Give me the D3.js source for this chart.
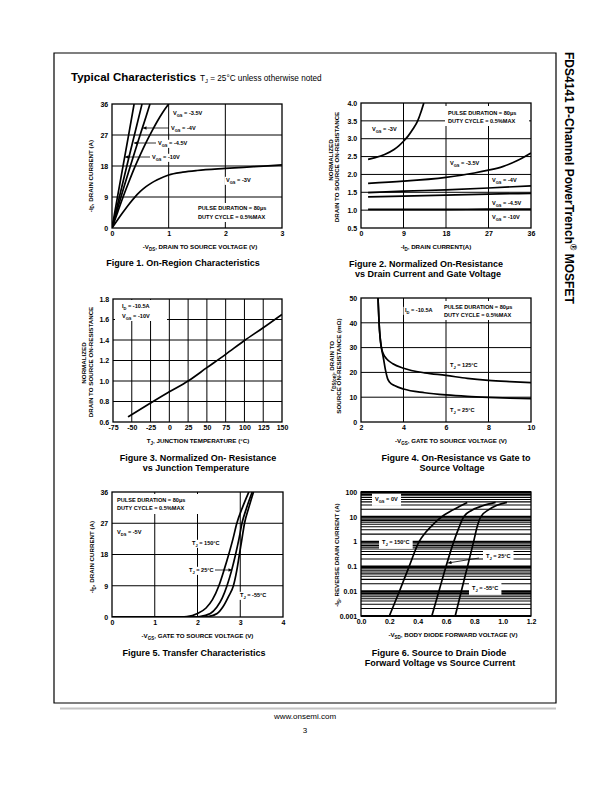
<!DOCTYPE html>
<html><head><meta charset="utf-8">
<script src="https://cdn.jsdelivr.net/npm/d3@7"></script>
<style>
html,body{margin:0;padding:0;background:#fff;}
svg{display:block;}
text{font-family:"Liberation Sans",Arial,Helvetica,sans-serif;fill:#000;}
</style></head><body>
<svg id="page" width="612" height="792"></svg>
<script>
// ---------- Figure 1: On-Region Characteristics ----------
const fig1XTicks = [0, 1, 2, 3];
const fig1YTicks = [0, 9, 18, 27, 36];
const fig1Vgs10 = [[0,0],[0.1,9.3],[0.2,18.5],[0.3,27.6],[0.39,36]];
const fig1Vgs45 = [[0,0],[0.1,6.9],[0.2,13.8],[0.3,20.6],[0.4,27.3],[0.53,36]];
const fig1Vgs4  = [[0,0],[0.1,5.7],[0.2,11.3],[0.3,16.7],[0.4,22],[0.5,27.2],[0.6,32.3],[0.67,36]];
const fig1Vgs35 = [[0,0],[0.1,4.6],[0.2,9.2],[0.3,13.5],[0.4,17.6],[0.5,21.3],[0.6,24.8],[0.7,28],[0.8,31],[0.9,33.7],[1.0,36]];
const fig1Vgs3  = [[0,0],[0.1,2.4],[0.2,4.7],[0.3,6.9],[0.4,8.9],[0.5,10.6],[0.6,12],[0.7,13.1],[0.8,14],[1.0,15.4],[1.25,16.2],[1.5,16.7],[2.0,17.3],[2.5,17.8],[3.0,18.3]];

// ---------- Figure 2: Normalized On-Resistance vs Drain Current ----------
const fig2XTicks = [0, 9, 18, 27, 36];
const fig2YTicks = [0.5, 1.0, 1.5, 2.0, 2.5, 3.0, 3.5, 4.0];
const fig2Vgs3  = [[1.5,2.42],[3,2.47],[5,2.56],[7,2.7],[8,2.8],[9,2.93],[10,3.08],[11,3.27],[12,3.5],[12.7,3.75],[13.3,4.0]];
const fig2Vgs35 = [[1.5,1.75],[9,1.81],[18,1.92],[24,2.04],[27,2.12],[30,2.22],[33,2.38],[36,2.6]];
const fig2Vgs4  = [[1.5,1.49],[9,1.53],[18,1.57],[27,1.62],[36,1.68]];
const fig2Vgs45 = [[1.5,1.37],[9,1.39],[18,1.42],[27,1.45],[36,1.47]];
const fig2Vgs10 = [[1.5,1.02],[9,1.02],[18,1.02],[27,1.03],[36,1.03]];

// ---------- Figure 3: Normalized On-Resistance vs Junction Temperature ----------
const fig3XTicks = [-75, -50, -25, 0, 25, 50, 75, 100, 125, 150];
const fig3YTicks = [0.6, 0.8, 1.0, 1.2, 1.4, 1.6, 1.8];
const fig3Rnorm = [[-55,0.65],[-25,0.785],[0,0.895],[25,1.0],[50,1.13],[75,1.26],[100,1.395],[125,1.52],[150,1.65]];

// ---------- Figure 4: On-Resistance vs Gate to Source Voltage ----------
const fig4XTicks = [2, 4, 6, 8, 10];
const fig4YTicks = [0, 10, 20, 30, 40, 50];
const fig4Tj125 = [[2.8,50],[2.85,40],[2.9,34],[2.96,30],[3.05,27.5],[3.2,25.5],[3.5,23.5],[4,21.7],[5,19.8],[6,18.8],[7,17.6],[8,16.8],[9,16.3],[10,15.9]];
const fig4Tj25  = [[2.8,50],[2.85,40],[2.9,34],[2.96,30],[3.05,26],[3.15,21],[3.25,17.5],[3.35,16],[3.6,14.6],[4,13.3],[5,11.8],[6,10.9],[7,10.3],[8,9.9],[9,9.6],[10,9.4]];

// ---------- Figure 5: Transfer Characteristics ----------
const fig5XTicks = [0, 1, 2, 3, 4];
const fig5YTicks = [0, 9, 18, 27, 36];
const fig5Tj150  = [[0,0],[1.5,0],[1.75,0.15],[2.0,1.0],[2.2,2.6],[2.35,5],[2.5,9],[2.62,13.5],[2.73,18],[2.83,22.5],[2.92,27],[3.05,31.5],[3.2,36]];
const fig5Tj25   = [[0,0],[1.8,0],[2.05,0.15],[2.3,1.0],[2.45,2.8],[2.58,5.5],[2.69,9],[2.8,13.5],[2.89,18],[2.97,22.5],[3.04,27],[3.15,31.5],[3.28,36]];
const fig5TjM55  = [[0,0],[2.05,0],[2.25,0.15],[2.46,1.0],[2.6,3],[2.73,6],[2.84,9],[2.92,13.5],[2.98,18],[3.04,22.5],[3.1,27],[3.2,31.5],[3.31,36]];

// ---------- Figure 6: Source to Drain Diode Forward Voltage ----------
const fig6XTicks = [0.0, 0.2, 0.4, 0.6, 0.8, 1.0, 1.2];
const fig6YTicks = [0.001, 0.01, 0.1, 1, 10, 100];
const fig6Tj150  = [[0.2,0.001],[0.27,0.0095],[0.34,0.1],[0.41,1],[0.46,2.5],[0.51,5],[0.57,10],[0.65,19],[0.75,38]];
const fig6Tj25   = [[0.5,0.001],[0.55,0.01],[0.6,0.1],[0.655,1],[0.69,3.5],[0.725,10],[0.78,18],[0.86,28],[0.95,38]];
const fig6TjM55  = [[0.665,0.001],[0.708,0.01],[0.752,0.1],[0.795,1],[0.82,4],[0.845,10],[0.9,19],[0.96,29],[1.03,38]];

// ================= drawing =================
const svg = d3.select('#page');
const defs = svg.append('defs');
defs.append('marker').attr('id','ah').attr('viewBox','0 0 10 10').attr('refX',10).attr('refY',5)
  .attr('markerUnits','userSpaceOnUse').attr('markerWidth',4.5).attr('markerHeight',3.5).attr('orient','auto')
  .append('path').attr('d','M0,0 L10,5 L0,10 z').attr('fill','#000');

function rich(sel, str, fs) {
  const parts = [];
  const re = /([_^])\{([^}]*)\}/g;
  let last = 0, m;
  while ((m = re.exec(str)) !== null) {
    if (m.index > last) parts.push({t: str.slice(last, m.index), k: 0});
    parts.push({t: m[2], k: m[1] === '_' ? 1 : -1});
    last = re.lastIndex;
  }
  if (last < str.length) parts.push({t: str.slice(last), k: 0});
  let cur = 0;
  parts.forEach(p => {
    const off = p.k === 1 ? fs * 0.3 : (p.k === -1 ? -fs * 0.42 : 0);
    const ts = sel.append('tspan').attr('dy', off - cur).text(p.t);
    if (p.k !== 0) ts.attr('font-size', fs * 0.72);
    cur = off;
  });
  return sel;
}

const TICK_FS = 7, TITLE_FS = 6.2, ANN_FS = 5.6, CAP_FS = 9;

function drawFigure(c) {
  const g = svg.append('g');
  const x = d3.scaleLinear().domain(c.xDomain).range([c.left, c.right]);
  const y = (c.yLog ? d3.scaleLog() : d3.scaleLinear()).domain(c.yDomain).range([c.bottom, c.top]);
  const clipId = 'clip-' + c.id;
  defs.append('clipPath').attr('id', clipId).append('rect')
    .attr('x', c.left).attr('y', c.top).attr('width', c.right - c.left).attr('height', c.bottom - c.top);

  // grid
  const grid = g.append('g').attr('stroke', '#000');
  grid.selectAll('line.v').data(c.xGrid).join('line').attr('class', 'v')
    .attr('x1', d => x(d)).attr('x2', d => x(d)).attr('y1', c.top).attr('y2', c.bottom).attr('stroke-width', 1);
  grid.selectAll('line.h').data(c.yGrid).join('line').attr('class', 'h')
    .attr('x1', c.left).attr('x2', c.right).attr('y1', d => y(d)).attr('y2', d => y(d))
    .attr('stroke-width', d => c.yGridWidth ? c.yGridWidth(d) : 1);

  const bgG = g.append('g');
  (c.boxes || []).forEach(b => bgG.append('rect').attr('x', b[0]).attr('y', b[1])
    .attr('width', b[2] - b[0]).attr('height', b[3] - b[1]).attr('fill', '#fff'));

  // curves
  const line = d3.line().x(d => x(d[0])).y(d => y(d[1])).curve(d3.curveMonotoneX);
  g.append('g').attr('clip-path', `url(#${clipId})`)
    .selectAll('path').data(c.series).join('path')
    .attr('d', line).attr('fill', 'none').attr('stroke', '#000').attr('stroke-width', 1.7)
    .attr('stroke-linejoin', 'round');

  // frame
  g.append('rect').attr('x', c.left).attr('y', c.top).attr('width', c.right - c.left)
    .attr('height', c.bottom - c.top).attr('fill', 'none').attr('stroke', '#000').attr('stroke-width', 1.3);

  // axes
  const xa = g.append('g').attr('transform', `translate(0,${c.bottom})`)
    .call(d3.axisBottom(x).tickValues(c.xTicks).tickSize(0).tickPadding(3.3).tickFormat(c.xFmt || (d => d)));
  const ya = g.append('g').attr('transform', `translate(${c.left},0)`)
    .call(d3.axisLeft(y).tickValues(c.yTicks).tickSize(0).tickPadding(3.8).tickFormat(c.yFmt || (d => d)));
  [xa, ya].forEach(a => {
    a.select('.domain').remove();
    a.attr('font-family', null).attr('font-size', null);
    a.selectAll('text').attr('font-size', TICK_FS).attr('font-weight', 'bold').attr('fill', '#000');
  });

  // axis titles
  rich(g.append('text').attr('x', c.xTitle.x).attr('y', c.bottom + 21).attr('text-anchor', 'middle')
    .attr('font-size', TITLE_FS).attr('font-weight', 'bold'), c.xTitle.t, TITLE_FS);
  c.yTitles.forEach(t => {
    rich(g.append('text').attr('transform', `translate(${t.x},${t.y}) rotate(-90)`).attr('text-anchor', 'middle')
      .attr('font-size', TITLE_FS).attr('font-weight', 'bold'), t.t, TITLE_FS);
  });

  // annotations
  const labG = g.append('g');
  const pad = c.labelPad || [1.5, 0.2];
  (c.labels || []).forEach(l => {
    const t = rich(labG.append('text').attr('x', l.x).attr('y', l.y).attr('font-size', ANN_FS)
      .attr('font-weight', 'bold'), l.t, ANN_FS);
    if (l.bg !== false) {
      const bb = t.node().getBBox();
      bgG.append('rect').attr('x', bb.x - pad[0]).attr('y', bb.y - pad[1])
        .attr('width', bb.width + 2 * pad[0]).attr('height', bb.height + 2 * pad[1]).attr('fill', '#fff');
    }
    if (l.arrow) {
      labG.append('line').attr('x1', l.arrow[0]).attr('y1', l.arrow[1]).attr('x2', l.arrow[2]).attr('y2', l.arrow[3])
        .attr('stroke', '#000').attr('stroke-width', 0.8).attr('marker-end', 'url(#ah)');
    }
  });

  // caption
  c.caption.forEach(cl => {
    g.append('text').attr('x', cl.x).attr('y', cl.y).attr('text-anchor', 'middle')
      .attr('font-size', CAP_FS).attr('font-weight', 'bold').text(cl.t);
  });
}

const inner = a => a.slice(1, -1);
const PULSE = 'PULSE DURATION = 80μs', DUTY = 'DUTY CYCLE = 0.5%MAX';

drawFigure({
  id: 1, left: 112, right: 282, top: 104, bottom: 228,
  xDomain: [0, 3], yDomain: [0, 36], xTicks: fig1XTicks, yTicks: fig1YTicks,
  xGrid: inner(fig1XTicks), yGrid: inner(fig1YTicks),
  series: [fig1Vgs10, fig1Vgs45, fig1Vgs4, fig1Vgs35, fig1Vgs3],
  boxes: [[195, 203, 273, 222]],
  labels: [
    {x: 173, y: 115, t: 'V_{GS} = -3.5V'},
    {x: 171, y: 130, t: 'V_{GS} = -4V', arrow: [169, 128, 143, 128]},
    {x: 158, y: 145, t: 'V_{GS} = -4.5V', arrow: [156, 143, 134, 143]},
    {x: 152, y: 159, t: 'V_{GS} = -10V', arrow: [150, 157, 125, 157]},
    {x: 226, y: 182, t: 'V_{GS} = -3V'},
    {x: 198, y: 210, t: PULSE, bg: false},
    {x: 198, y: 219, t: DUTY, bg: false}
  ],
  xTitle: {x: 200, t: '-V_{DS}, DRAIN TO SOURCE VOLTAGE (V)'},
  yTitles: [{x: 92.5, y: 176, t: '-I_{D}, DRAIN CURRENT (A)'}],
  caption: [{x: 183, y: 266, t: 'Figure 1.  On-Region Characteristics'}]
});

drawFigure({
  id: 2, left: 361, right: 531, top: 103, bottom: 228,
  xDomain: [0, 36], yDomain: [0.5, 4.0], xTicks: fig2XTicks, yTicks: fig2YTicks,
  yFmt: d3.format('.1f'),
  xGrid: inner(fig2XTicks), yGrid: inner(fig2YTicks),
  series: [fig2Vgs3, fig2Vgs35, fig2Vgs4, fig2Vgs45, fig2Vgs10],
  boxes: [[445, 106, 529, 126]],
  labels: [
    {x: 372, y: 131, t: 'V_{GS} = -3V'},
    {x: 450, y: 165, t: 'V_{GS} = -3.5V'},
    {x: 492, y: 182, t: 'V_{GS} = -4V'},
    {x: 492, y: 205, t: 'V_{GS} = -4.5V'},
    {x: 492, y: 219, t: 'V_{GS} = -10V'},
    {x: 448, y: 115, t: PULSE, bg: false},
    {x: 448, y: 123, t: DUTY, bg: false}
  ],
  xTitle: {x: 436, t: '-I_{D}, DRAIN CURRENT(A)'},
  yTitles: [{x: 332.5, y: 160, t: 'NORMALIZED'}, {x: 338.8, y: 167, t: 'DRAIN TO SOURCE ON-RESISTANCE'}],
  caption: [{x: 426, y: 267, t: 'Figure 2. Normalized On-Resistance'},
            {x: 428, y: 277, t: 'vs Drain Current and Gate Voltage'}]
});

drawFigure({
  id: 3, left: 113, right: 282, top: 299, bottom: 422,
  xDomain: [-75, 150], yDomain: [0.6, 1.8], xTicks: fig3XTicks, yTicks: fig3YTicks,
  yFmt: d3.format('.1f'),
  xGrid: inner(fig3XTicks), yGrid: inner(fig3YTicks),
  series: [fig3Rnorm],
  boxes: [[115, 300, 167, 321]],
  labels: [
    {x: 122, y: 308, t: 'I_{D} = -10.5A', bg: false},
    {x: 122, y: 318, t: 'V_{GS} = -10V', bg: false}
  ],
  xTitle: {x: 198, t: 'T_{J}, JUNCTION TEMPERATURE  (°C)'},
  yTitles: [{x: 85.5, y: 363, t: 'NORMALIZED'}, {x: 92.5, y: 362, t: 'DRAIN TO SOURCE ON-RESISTANCE'}],
  caption: [{x: 198, y: 461, t: 'Figure 3. Normalized On- Resistance'},
            {x: 196, y: 471, t: 'vs Junction Temperature'}]
});

drawFigure({
  id: 4, left: 361, right: 531, top: 298, bottom: 422,
  xDomain: [2, 10], yDomain: [0, 50], xTicks: fig4XTicks, yTicks: fig4YTicks,
  xGrid: inner(fig4XTicks), yGrid: inner(fig4YTicks),
  series: [fig4Tj125, fig4Tj25],
  boxes: [[442, 301, 528, 320]],
  labels: [
    {x: 405, y: 312, t: 'I_{D} = -10.5A'},
    {x: 444, y: 309, t: PULSE, bg: false},
    {x: 444, y: 317, t: DUTY, bg: false},
    {x: 450, y: 367, t: 'T_{J} = 125°C'},
    {x: 450, y: 412, t: 'T_{J} = 25°C'}
  ],
  xTitle: {x: 451, t: '-V_{GS}, GATE TO SOURCE VOLTAGE  (V)'},
  yTitles: [{x: 334, y: 366, t: 'r_{DS(on)}, DRAIN TO'}, {x: 340.5, y: 366, t: 'SOURCE ON-RESISTANCE  (mΩ)'}],
  caption: [{x: 456, y: 461, t: 'Figure 4.  On-Resistance vs Gate to'},
            {x: 452, y: 471, t: 'Source Voltage'}]
});

drawFigure({
  id: 5, left: 112, right: 283, top: 492, bottom: 617,
  xDomain: [0, 4], yDomain: [0, 36], xTicks: fig5XTicks, yTicks: fig5YTicks,
  xGrid: inner(fig5XTicks), yGrid: inner(fig5YTicks),
  series: [fig5Tj150, fig5Tj25, fig5TjM55],
  boxes: [[113, 494, 200, 514]],
  labels: [
    {x: 117, y: 502, t: PULSE, bg: false},
    {x: 117, y: 510, t: DUTY, bg: false},
    {x: 117, y: 534, t: 'V_{DS} = -5V'},
    {x: 192, y: 545, t: 'T_{J} = 150°C'},
    {x: 189, y: 572, t: 'T_{J} = 25°C', arrow: [215, 570, 232, 570]},
    {x: 240, y: 597, t: 'T_{J} = -55°C'}
  ],
  xTitle: {x: 197.5, t: '-V_{GS}, GATE TO SOURCE VOLTAGE (V)'},
  yTitles: [{x: 94, y: 557, t: '-I_{D}, DRAIN CURRENT (A)'}],
  caption: [{x: 194, y: 656, t: 'Figure 5.  Transfer Characteristics'}]
});

const fig6Grid = [0.001, 0.01, 0.1, 1, 10].flatMap(d => d3.range(1, 10).map(k => k * d)).concat([100]);
drawFigure({
  id: 6, left: 361, right: 531, top: 492, bottom: 616, yLog: true,
  xDomain: [0, 1.2], yDomain: [0.001, 100], xTicks: fig6XTicks, yTicks: fig6YTicks,
  xFmt: d3.format('.1f'), yFmt: d => String(+d.toPrecision(3)),
  xGrid: [], yGrid: fig6Grid,
  yGridWidth: d => Math.abs(Math.log10(d) - Math.round(Math.log10(d))) < 1e-9 ? 1.9 : 1.05,
  series: [fig6Tj150, fig6Tj25, fig6TjM55],
  labelPad: [3, 2.2],
  labels: [
    {x: 375, y: 501, t: 'V_{GS} = 0V'},
    {x: 382, y: 544, t: 'T_{J} = 150°C'},
    {x: 486, y: 558, t: 'T_{J} = 25°C', arrow: [479, 558, 448, 563]},
    {x: 472, y: 590, t: 'T_{J} = -55°C'}
  ],
  xTitle: {x: 453, t: '-V_{SD}, BODY DIODE FORWARD VOLTAGE (V)'},
  yTitles: [{x: 339, y: 555, t: '-I_{S}, REVERSE DRAIN CURRENT (A)'}],
  caption: [{x: 439, y: 656, t: 'Figure 6.  Source to Drain Diode'},
            {x: 440, y: 666, t: 'Forward Voltage vs Source Current'}]
});

// ---------- page furniture ----------
svg.append('path').attr('d', 'M54,703 L54,53 L556,53 L556,703 Z').attr('fill', 'none')
  .attr('stroke', '#000').attr('stroke-width', 1.2);
svg.append('line').attr('x1', 60).attr('x2', 556).attr('y1', 708.5).attr('y2', 708.5)
  .attr('stroke', '#c4c4c4').attr('stroke-width', 2);

const hdr = svg.append('text').attr('x', 71).attr('y', 81);
hdr.append('tspan').attr('font-size', 11.5).attr('font-weight', 'bold').text('Typical Characteristics');
svg.append('text').attr('x', 200).attr('y', 81).attr('font-size', 8.2).call(s => rich(s, 'T_{J} = 25°C unless otherwise noted', 8.2));

rich(svg.append('text').attr('transform', 'translate(564.5,52) rotate(90)').attr('font-size', 12)
  .attr('font-weight', 'bold'), 'FDS4141 P-Channel PowerTrench^{®} MOSFET', 12);

svg.append('text').attr('x', 305).attr('y', 719).attr('text-anchor', 'middle').attr('font-size', 8).text('www.onsemi.com');
svg.append('text').attr('x', 305).attr('y', 733).attr('text-anchor', 'middle').attr('font-size', 8).text('3');
</script>
</body></html>
